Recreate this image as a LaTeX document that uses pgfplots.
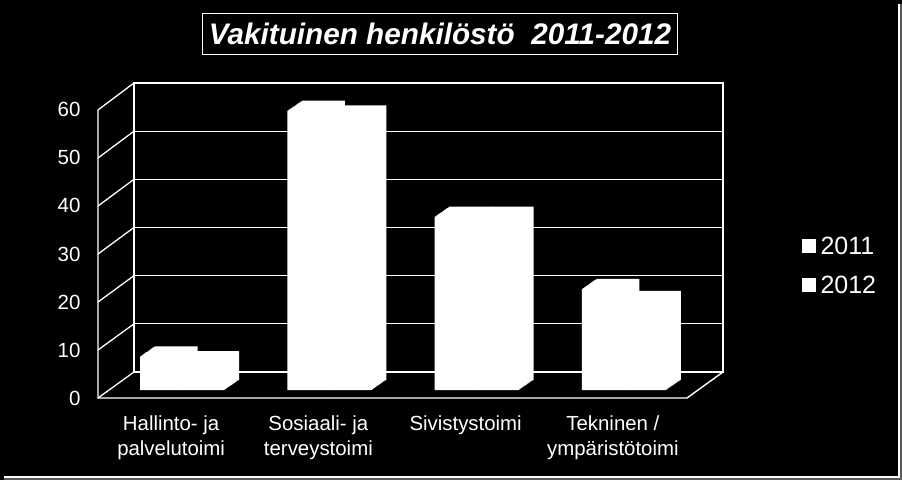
\documentclass[border=0pt]{standalone}
\usepackage{pgfplots}
\usepackage{pgfplotstable}
\usepackage{fontspec}
\setmainfont{Liberation Sans}
\pgfplotsset{compat=1.18}

\pgfplotstableread{
x y
0 7
1 58
2 36
3 21
}\vuosiA
\pgfplotstableread{
x y
0 6
1 57
2 36
3 18.5
}\vuosiB

\begin{document}
\begin{tikzpicture}[x=1pt,y=1pt]
\useasboundingbox (0,0) rectangle (902,480);
\fill[black] (0,0) rectangle (902,480);
% picture frame, right and bottom
\fill[white] (898,476) rectangle (900,2);
\fill[white] (4,4) rectangle (900,2);
\fill[black!65] (900,476) rectangle (902,0);
\fill[black!65] (4,2) rectangle (902,0);
% side wall and floor of the 3d box
\foreach \k in {0,...,6}
  \draw[white,line width=1.3pt] (98,82+48*\k) -- (134,108+48.17*\k);
\draw[white,line width=1.4pt] (98,370) -- (98,82) -- (687,82) -- (723,108);

\begin{axis}[
  at={(134pt,108pt)}, anchor=south west,
  scale only axis, width=589pt, height=289pt,
  xmin=-0.5, xmax=3.5, ymin=0, ymax=60,
  clip=false,
  axis line style={white,line width=1.3pt},
  major tick length=0pt,
  tick style={draw=none},
  ytick={0,10,...,60},
  ymajorgrids,
  grid style={white,line width=1.3pt},
  xtick={0,1,2,3},
  xticklabels={{Hallinto- ja\\palvelutoimi},{Sosiaali- ja\\terveystoimi},{Sivistystoimi},{Tekninen /\\ympäristötoimi}},
  xticklabel style={align=center,text=white,font=\fontsize{20.4}{25}\selectfont,xshift=-36.5pt,yshift=-40pt},
  yticklabel style={text=white,font=\fontsize{20.5}{20.5}\selectfont,xshift=-50pt,yshift=-26.5pt},
  /pgf/number format/assume math mode=true,
  title={\textbf{\textit{Vakituinen henkilöstö\ \ 2011-2012}}},
  title style={at={(axis description cs:0.5195,1.1475)},anchor=center,draw=white,line width=1pt,
    text=white,font=\fontsize{29.7}{29.7}\selectfont,minimum width=475pt,minimum height=41pt,inner sep=0pt},
  legend style={at={(axis description cs:1.134,0.368)},anchor=west,draw=none,fill=none,inner sep=0pt,
    text=white,font=\fontsize{25}{25}\selectfont,row sep=20pt,
    nodes={inner sep=0pt}},
  legend cell align=left,
]
\pgfplotsinvokeforeach{0,...,14}{
  \addplot[ybar,forget plot,bar width=43pt,bar shift=0pt,fill=white,draw=none,
    xshift={-46.1pt+#1*1.036pt},yshift={-18pt+#1*0.714pt}] table {\vuosiA};
  \addplot[ybar,forget plot,bar width=42.3pt,bar shift=0pt,fill=white,draw=none,
    xshift={-4.2pt+#1*1.036pt},yshift={-18pt+#1*0.714pt}] table {\vuosiB};
}
\addlegendimage{legend image code/.code={\fill[white] (0pt,-6.5pt) rectangle (13pt,6.5pt);\path (18pt,0pt);}}
\addlegendentry{2011}
\addlegendimage{legend image code/.code={\fill[white] (0pt,-6.5pt) rectangle (13pt,6.5pt);\path (18pt,0pt);}}
\addlegendentry{2012}
\end{axis}
\end{tikzpicture}
\end{document}
